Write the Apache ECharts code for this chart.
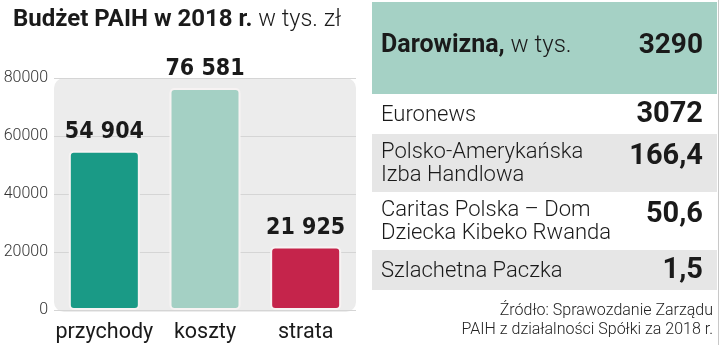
<!DOCTYPE html>
<html><head><meta charset="utf-8">
<script src="https://cdn.jsdelivr.net/npm/echarts@6/dist/echarts.min.js"></script>
<style>html,body{margin:0;padding:0;background:#fff}#c{width:720px;height:345px}</style>
</head><body><div id="c"></div>
<script>
const categories = ['przychody', 'koszty', 'strata'];
const budgetValues = [54904, 76581, 21925];
const yTicks = [0, 20000, 40000, 60000, 80000];
const donationTitle = 'Darowizna,';
const donationUnit = ' w tys.';
const donationTotal = '3290';
const recipients = ['Euronews', 'Polsko-Amerykańska\nIzba Handlowa', 'Caritas Polska – Dom\nDziecka Kibeko Rwanda', 'Szlachetna Paczka'];
const recipientValues = ['3072', '166,4', '50,6', '1,5'];
const sourceText = 'Źródło: Sprawozdanie Zarządu\nPAIH z działalności Spółki za 2018 r.';

const barColors = ['#1a9a86', '#a4d0c4', '#c5244b'];
const FONT = 'Roboto';
const COND = "'DejaVu Sans Condensed'";

const chart = echarts.init(document.getElementById('c'), null, {renderer: 'canvas'});

const G = {left: 54, right: 364, top: 78, bottom: 35};
const graphics = [];
graphics.push({type: 'rect', z: -10, shape: {x: 54, y: 78, width: 302, height: 234, r: 10}, style: {fill: '#ececec'}});
const TX = 372, TW = 345;
graphics.push({type: 'rect', shape: {x: TX, y: 2, width: TW, height: 92}, style: {fill: '#a5d1c5'}});
graphics.push({type: 'text', x: 381, y: 46, style: {text: '{b|' + donationTitle + '}{l|' + donationUnit + '}', verticalAlign: 'middle', rich: {
  b: {fontFamily: FONT, fontWeight: 'bold', fontSize: 25, fill: '#1a1a1a'},
  l: {fontFamily: FONT, fontWeight: 300, fontSize: 24, fill: '#1a1a1a'}
}}});
graphics.push({type: 'text', x: 703, y: 46, style: {text: donationTotal, align: 'right', verticalAlign: 'middle', fontFamily: FONT, fontWeight: 'bold', fontSize: 28, fill: '#1a1a1a'}});
let y = 94;
recipients.forEach((name, i) => {
  const lines = name.split('\n').length;
  const h = lines === 1 ? 40 : 58;
  graphics.push({type: 'rect', shape: {x: TX, y: y, width: TW, height: h}, style: {fill: i % 2 ? '#e6e6e6' : '#ffffff'}});
  graphics.push({type: 'text', x: 381, y: y + h / 2 + 1, style: {text: name, verticalAlign: 'middle', lineHeight: 23, fontFamily: FONT, fontWeight: 300, fontSize: 22, fill: '#1a1a1a'}});
  graphics.push({type: 'text', x: 703, y: y + (lines === 1 ? h / 2 + 1 : 23), style: {text: recipientValues[i], align: 'right', verticalAlign: 'middle', fontFamily: FONT, fontWeight: 'bold', fontSize: 29, fill: '#1a1a1a'}});
  y += h;
});
graphics.push({type: 'text', x: 713, y: 320, style: {text: sourceText, align: 'right', verticalAlign: 'middle', lineHeight: 19, fontFamily: FONT, fontWeight: 300, fontSize: 16, fill: '#222'}});
graphics.push({type: 'line', shape: {x1: 718.5, y1: 0, x2: 718.5, y2: 345}, style: {stroke: '#c8c8c8', lineWidth: 1}});

chart.setOption({
  animation: false,
  title: {
    left: 8, top: 3,
    text: '{b|Budżet PAIH w 2018 r.}{l| w tys. zł}',
    textStyle: {rich: {
      b: {fontFamily: FONT, fontWeight: 'bold', fontSize: 24, color: '#1a1a1a'},
      l: {fontFamily: FONT, fontWeight: 300, fontSize: 23.5, color: '#1a1a1a'}
    }}
  },
  grid: G,
  xAxis: {
    type: 'category', data: categories,
    axisLine: {show: false}, axisTick: {show: false},
    axisLabel: {interval: 0, fontFamily: FONT, fontSize: 21.5, color: '#1a1a1a', margin: 12}
  },
  yAxis: {
    type: 'value', min: yTicks[0], max: yTicks[yTicks.length - 1], interval: yTicks[1] - yTicks[0],
    axisLine: {show: false}, axisTick: {show: false},
    splitLine: {lineStyle: {color: '#d5d5d5', width: 1}},
    axisLabel: {formatter: v => String(v), fontFamily: FONT, fontWeight: 300, fontSize: 16, color: '#333', margin: 6}
  },
  series: [{
    type: 'bar', barWidth: 71, z: 5,
    data: budgetValues.map((v, i) => ({value: v, itemStyle: {color: barColors[i]}})),
    itemStyle: {borderColor: '#f7f3f3', borderWidth: 2, borderRadius: 4},
    label: {
      show: true, position: 'top', distance: 7,
      formatter: p => String(p.value).replace(/\B(?=(\d{3})+(?!\d))/g, ' '),
      fontFamily: COND, fontWeight: 'bold', fontSize: 23, color: '#1a1a1a'
    }
  }],
  graphic: graphics
});
</script></body></html>
